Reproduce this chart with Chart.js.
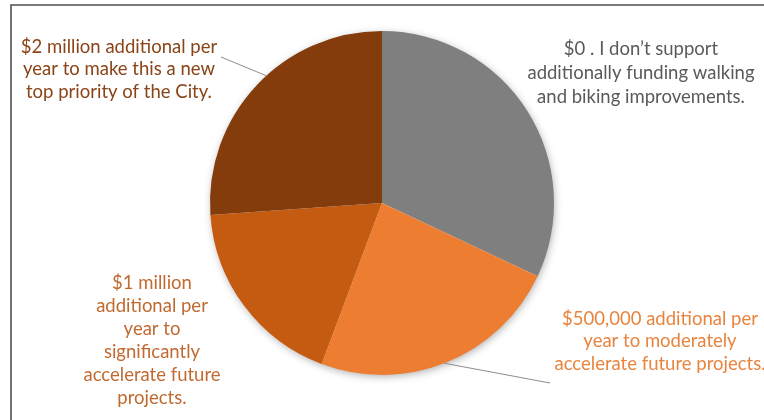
<!DOCTYPE html>
<html>
<head>
<meta charset="utf-8">
<script src="https://cdn.jsdelivr.net/npm/chart.js@4/dist/chart.umd.min.js"></script>
<style>
  html, body { margin: 0; padding: 0; background: #fff; }
  #wrap { position: relative; width: 764px; height: 420px; }
</style>
</head>
<body>
<div id="wrap"><canvas id="pieChart" width="764" height="420"></canvas></div>
<script>
// Données
const categories = [
    "$0 . I don't support additionally funding walking and biking improvements.",
    "$500,000 additional per year to moderately accelerate future projects.",
    "$1 million additional per year to significantly accelerate future projects.",
    "$2 million additional per year to make this a new top priority of the City."
];
const shares = [32.0, 23.7, 18.2, 26.1];
const sliceColors = ['#7f7f7f', '#ed7d31', '#c55a11', '#843c0c'];

// Libellés découpés en lignes comme sur l'original
const labelLines = [
    ["$0 . I don\u2019t support", "additionally funding walking", "and biking improvements."],
    ["$500,000 additional per", "year to moderately", "accelerate future projects."],
    ["$1 million", "additional per", "year to", "significantly", "accelerate future", "projects."],
    ["$2 million additional per", "year to make this a new", "top priority of the City."]
];
const labelColors = ['#5a5a5a', '#e8843e', '#c06a30', '#8a4418'];

// position des blocs de texte (centre x, première ligne y, interligne)
const labelPos = [
    { x: 641, y: 49, lh: 24 },
    { x: 660, y: 319, lh: 22.5 },
    { x: 152, y: 283, lh: 23 },
    { x: 119, y: 47, lh: 22.5 }
];
// leaders : slice index, début du trait, fraction de la part
const leaders = [
    { idx: 3, from: [221, 57], frac: 0.55 },
    { idx: 1, from: [550, 383], frac: 0.51 }
];

const decorPlugin = {
    id: 'decor',
    beforeDatasetsDraw(chart) {
        const ctx = chart.ctx;
        const arc = chart.getDatasetMeta(0).data[0];
        ctx.save();
        // cadre gris
        ctx.strokeStyle = '#505050';
        ctx.lineWidth = 1.6;
        ctx.beginPath();
        ctx.moveTo(11, 430);
        ctx.lineTo(11, 5);
        ctx.lineTo(770, 5);
        ctx.stroke();
        // ombre douce du camembert
        ctx.shadowColor = 'rgba(0,0,0,0.35)';
        ctx.shadowBlur = 8;
        ctx.shadowOffsetX = 1;
        ctx.shadowOffsetY = 2;
        ctx.fillStyle = '#ffffff';
        ctx.beginPath();
        ctx.arc(arc.x, arc.y, arc.outerRadius - 1, 0, Math.PI * 2);
        ctx.fill();
        ctx.restore();
    },
    afterDatasetsDraw(chart) {
        const ctx = chart.ctx;
        const meta = chart.getDatasetMeta(0);
        ctx.save();
        // traits de rappel
        ctx.strokeStyle = '#8c8c8c';
        ctx.lineWidth = 1;
        leaders.forEach(l => {
            const el = meta.data[l.idx];
            const a = el.startAngle + (el.endAngle - el.startAngle) * l.frac;
            const px = el.x + Math.cos(a) * el.outerRadius;
            const py = el.y + Math.sin(a) * el.outerRadius;
            ctx.beginPath();
            ctx.moveTo(l.from[0], l.from[1]);
            ctx.lineTo(px, py);
            ctx.stroke();
        });
        // textes
        ctx.font = '18.5px Lato, "Open Sans", sans-serif';
        ctx.textAlign = 'center';
        ctx.textBaseline = 'middle';
        labelLines.forEach((lines, i) => {
            ctx.fillStyle = labelColors[i];
            const p = labelPos[i];
            lines.forEach((t, j) => ctx.fillText(t, p.x, p.y + j * p.lh));
        });
        ctx.restore();
    }
};

new Chart(document.getElementById('pieChart'), {
    type: 'pie',
    data: {
        labels: categories,
        datasets: [{
            data: shares,
            backgroundColor: sliceColors,
            borderWidth: 0
        }]
    },
    options: {
        responsive: false,
        animation: false,
        layout: { padding: { top: 31, bottom: 45, left: 0, right: 0 } },
        plugins: { legend: { display: false }, tooltip: { enabled: false } }
    },
    plugins: [decorPlugin]
});
</script>
</body>
</html>
